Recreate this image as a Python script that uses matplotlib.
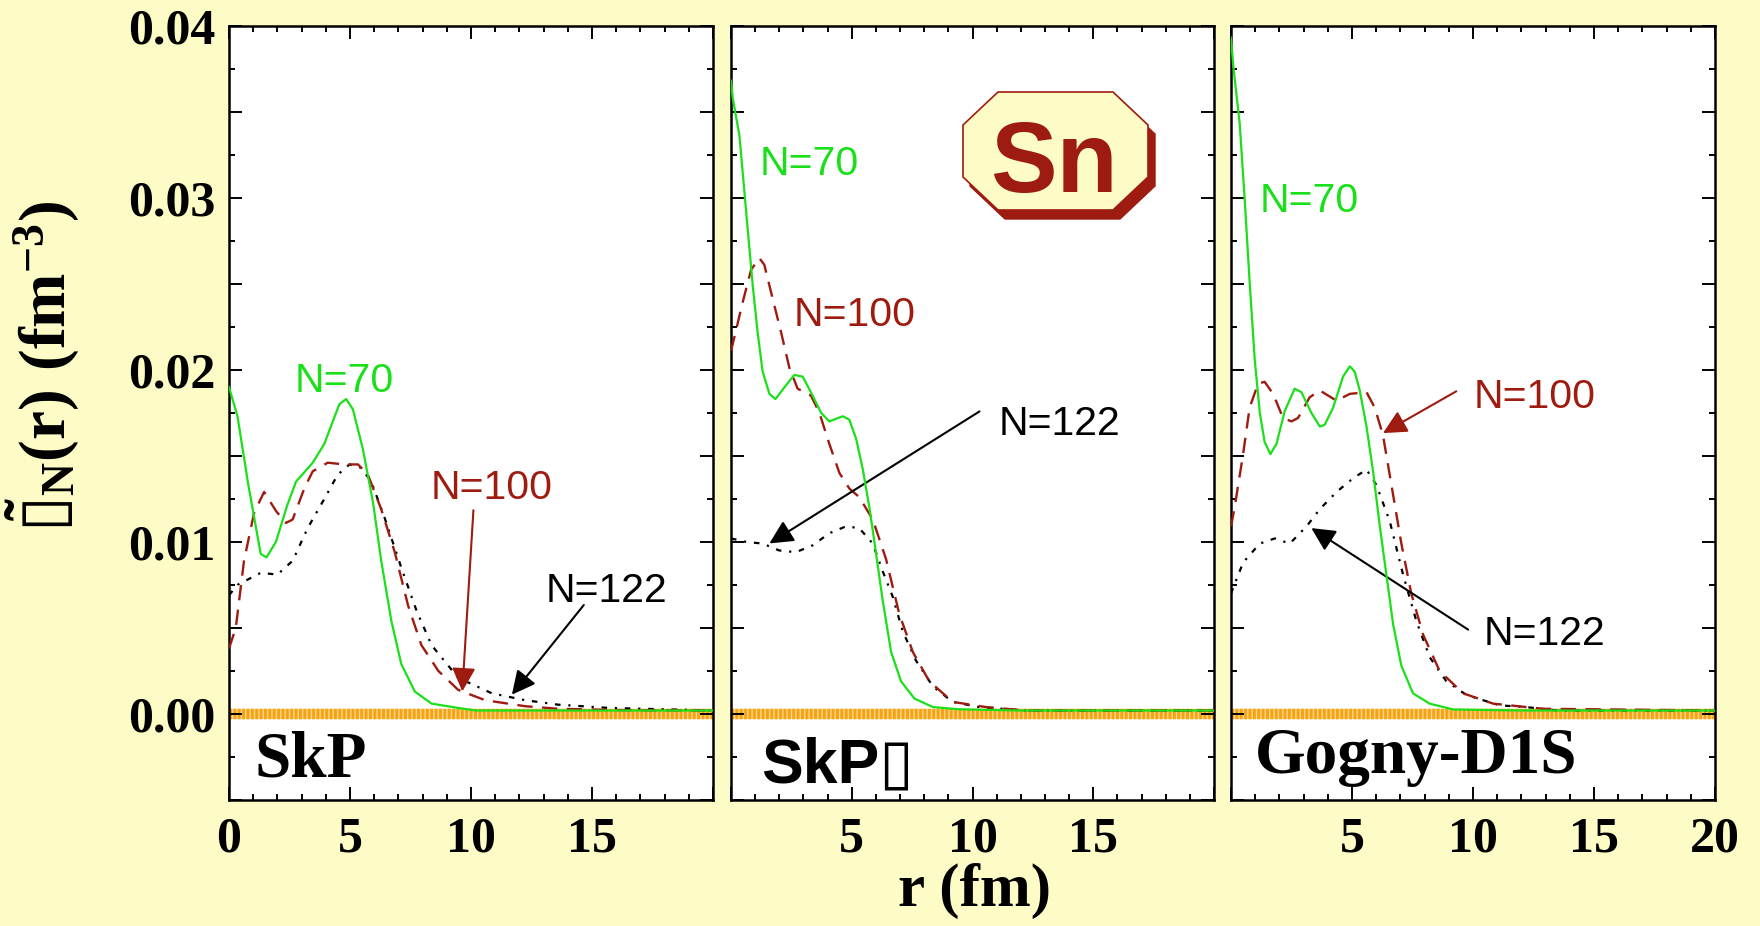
import numpy as np
import matplotlib
matplotlib.use("Agg")
import matplotlib.pyplot as plt
from matplotlib.patches import Polygon
from matplotlib.ticker import MultipleLocator, FixedLocator, FuncFormatter

# ---- data: r (fm), density (fm^-3) ----
# SkP
skp_r70 = [0, 0.35, 0.8, 1.31, 1.55, 1.94, 2.4, 2.77, 3.46, 3.94, 4.56, 4.84, 5.12, 5.53,
           5.95, 6.29, 6.71, 7.12, 7.68, 8.37, 9.47, 10.2, 12, 15, 20]
skp_n70 = [0.0190, 0.0173, 0.0133, 0.0093, 0.0091, 0.0100, 0.0121, 0.0135, 0.0146, 0.0157,
           0.0180, 0.0183, 0.0177, 0.0154, 0.0123, 0.0089, 0.0054, 0.0029, 0.0013, 0.0006,
           0.00035, 0.0002, 0.0002, 0.0002, 0.0002]
skp_r100 = [0, 0.28, 0.62, 1.04, 1.45, 1.94, 2.35, 2.63, 3.11, 3.46, 4.08, 4.77, 5.33, 5.74,
            6.29, 6.85, 7.40, 7.95, 8.65, 9.47, 10.58, 12.24, 13.6, 16.4, 20]
skp_n100 = [0.0038, 0.0050, 0.0089, 0.0117, 0.0129, 0.0118, 0.0111, 0.0113, 0.0131, 0.0141,
            0.0146, 0.0145, 0.0145, 0.0139, 0.0119, 0.0094, 0.0063, 0.0040, 0.0025, 0.0014,
            0.0008, 0.00045, 0.0003, 0.00022, 0.0002]
skp_r122 = [0, 0.35, 1.31, 2.0, 2.63, 3.25, 3.94, 4.49, 4.98, 5.46, 5.88, 6.43, 7.12, 7.75,
            8.37, 9.47, 10.86, 12.24, 13.6, 15.7, 20]
skp_n122 = [0.0069, 0.0075, 0.0082, 0.0081, 0.0089, 0.0108, 0.0125, 0.0139, 0.0145, 0.0143,
            0.0135, 0.0114, 0.0085, 0.0060, 0.0040, 0.0021, 0.0012, 0.0008, 0.00054, 0.00035,
            0.0002]

# SkP-delta
skpd_r70 = [0, 0.07, 0.35, 0.62, 0.90, 1.10, 1.31, 1.59, 1.84, 2.28, 2.62, 2.97, 3.38, 3.73,
            4.07, 4.63, 4.90, 5.18, 5.46, 5.73, 6.01, 6.28, 6.63, 7.04, 7.59, 8.36, 9.45, 12, 20]
skpd_n70 = [0.0368, 0.0358, 0.0336, 0.0293, 0.0249, 0.0222, 0.0199, 0.0186, 0.0183, 0.0191,
            0.0197, 0.0196, 0.0185, 0.0175, 0.0170, 0.0173, 0.0171, 0.0160, 0.0142, 0.0120,
            0.0093, 0.0066, 0.0036, 0.0019, 0.0009, 0.0004, 0.00027, 0.0002, 0.0002]
skpd_r100 = [0, 0.14, 0.48, 0.83, 1.17, 1.38, 1.73, 2.07, 2.42, 2.76, 3.31, 3.66, 4.07, 4.49,
             4.90, 5.31, 5.87, 6.42, 6.97, 7.53, 8.21, 9.18, 10.56, 12.2, 20]
skpd_n100 = [0.0211, 0.0219, 0.0239, 0.0258, 0.0265, 0.0261, 0.0241, 0.0222, 0.0201, 0.0189,
             0.0185, 0.0175, 0.0157, 0.0140, 0.0131, 0.0126, 0.0113, 0.0090, 0.0058, 0.0036,
             0.0019, 0.0007, 0.0004, 0.0002, 0.0002]
skpd_r122 = [0, 0.62, 1.31, 2.0, 2.69, 3.38, 4.07, 4.76, 5.31, 5.87, 6.28, 6.70, 7.11, 7.66,
             8.36, 9.18, 10.27, 12.2, 20]
skpd_n122 = [0.0102, 0.0100, 0.0099, 0.0095, 0.0094, 0.0098, 0.0105, 0.0109, 0.0108, 0.0099,
             0.0083, 0.0068, 0.0048, 0.0031, 0.0016, 0.0007, 0.0004, 0.0002, 0.0002]

# Gogny-D1S
gog_r70 = [0, 0.09, 0.36, 0.57, 0.77, 0.98, 1.19, 1.39, 1.63, 1.88, 2.22, 2.63, 2.91, 3.32,
           3.67, 3.87, 4.22, 4.63, 4.91, 5.11, 5.32, 5.60, 5.87, 6.15, 6.42, 6.70, 7.04, 7.52,
           8.21, 9.18, 12, 20]
gog_n70 = [0.0393, 0.0377, 0.0343, 0.0298, 0.0251, 0.0206, 0.0175, 0.0158, 0.0151, 0.0157,
           0.0176, 0.0189, 0.0187, 0.0175, 0.0167, 0.0168, 0.0178, 0.0196, 0.0202, 0.0199,
           0.0188, 0.0167, 0.0141, 0.0109, 0.0081, 0.0052, 0.0028, 0.0012, 0.0006, 0.00026,
           0.0002, 0.0002]
gog_r100 = [0, 0.15, 0.5, 0.77, 1.12, 1.39, 1.74, 2.15, 2.50, 2.77, 3.25, 3.67, 4.36, 4.91,
            5.60, 5.94, 6.28, 6.63, 7.04, 7.45, 7.94, 8.62, 9.59, 10.83, 12.9, 20]
gog_n100 = [0.0109, 0.0120, 0.0151, 0.0178, 0.0192, 0.0193, 0.0186, 0.0172, 0.0170, 0.0172,
            0.0184, 0.0188, 0.0182, 0.0186, 0.0187, 0.0178, 0.0162, 0.0133, 0.0099, 0.0070,
            0.0046, 0.0025, 0.0012, 0.0006, 0.0003, 0.0002]
gog_r122 = [0, 0.5, 1.19, 1.81, 2.43, 3.12, 3.67, 4.36, 5.05, 5.60, 6.01, 6.56, 7.11, 7.66,
            8.21, 8.90, 9.73, 11.1, 12.2, 13.5, 20]
gog_n122 = [0.0070, 0.0088, 0.0099, 0.0102, 0.0099, 0.0109, 0.0119, 0.0129, 0.0137, 0.0142,
            0.0133, 0.0112, 0.0081, 0.0054, 0.0033, 0.0019, 0.0011, 0.0005, 0.0004, 0.0002,
            0.0002]

panel_names = ["SkP", "SkP\u25af", "Gogny-D1S"]
xtick_labels = [["0", "5", "10", "15", ""],
                ["", "5", "10", "15", ""],
                ["", "5", "10", "15", "20"]]

# colours
BG = "#fdfbc6"
GREEN = "#19e019"
RED = "#9e1b10"
ORANGE = "#f5a312"

plt.rcParams["font.family"] = ["Liberation Serif", "DejaVu Sans"]
plt.rcParams["font.weight"] = "bold"
plt.rcParams["mathtext.fontset"] = "custom"
plt.rcParams["mathtext.rm"] = "Liberation Serif:bold"
plt.rcParams["mathtext.it"] = "Liberation Serif:bold"
plt.rcParams["mathtext.bf"] = "Liberation Serif:bold"
plt.rcParams["mathtext.sf"] = "DejaVu Sans"

W, H = 1760, 926
fig = plt.figure(figsize=(W / 100, H / 100), dpi=100, facecolor=BG)


def px(x, y):
    # pixel position (y from top) -> figure fraction
    return (x / W, 1 - y / H)


def frame(x0, x1, y0=25.6, y1=800):
    l, b = px(x0, y1)
    return [l, b, (x1 - x0) / W, (y1 - y0) / H]


axes = [fig.add_axes(frame(229, 713)),
        fig.add_axes(frame(731, 1214)),
        fig.add_axes(frame(1231, 1715))]

curves = [
    [(skp_r70, skp_n70), (skp_r100, skp_n100), (skp_r122, skp_n122)],
    [(skpd_r70, skpd_n70), (skpd_r100, skpd_n100), (skpd_r122, skpd_n122)],
    [(gog_r70, gog_n70), (gog_r100, gog_n100), (gog_r122, gog_n122)],
]

for i, ax in enumerate(axes):
    ax.set_facecolor("white")
    ax.set_xlim(0, 20)
    ax.set_ylim(-0.005, 0.04)
    # striped zero line
    ax.axhline(0, color="#fbd58a", lw=7.5, zorder=1)
    ax.axhline(0, color=ORANGE, lw=7.5, ls=(0, (0.28, 0.14)), dash_capstyle="butt", zorder=1)
    (r70, n70), (r100, n100), (r122, n122) = curves[i]
    ax.plot(r122, n122, color="black", lw=1.6, ls=(0, (2.5, 3.5, 1, 3.5)), zorder=3)
    ax.plot(r100, n100, color=RED, lw=1.7, ls=(0, (6.5, 4)), zorder=3)
    ax.plot(r70, n70, color=GREEN, lw=1.6, zorder=4)

    ax.xaxis.set_major_locator(FixedLocator([0, 5, 10, 15, 20]))
    ax.xaxis.set_minor_locator(MultipleLocator(1))
    ax.set_xticklabels(xtick_labels[i])
    ax.yaxis.set_major_locator(MultipleLocator(0.005))
    ax.yaxis.set_minor_locator(MultipleLocator(0.0025))
    if i == 0:
        ax.yaxis.set_major_formatter(FuncFormatter(
            lambda v, p: "%.2f" % v if abs(round(v * 100) - v * 100) < 1e-6 and v > -0.001 else ""))
    else:
        ax.set_yticklabels([])
    ax.tick_params(which="both", direction="in", top=True, right=True, width=1.4,
                   labelsize=36, colors="black")
    ax.tick_params(which="major", length=9.5)
    ax.tick_params(which="minor", length=4.5)
    ax.tick_params(axis="x", pad=12)
    ax.tick_params(axis="y", pad=10)
    for s in ax.spines.values():
        s.set_linewidth(1.8)

# panel names
axes[0].text(1.04, -0.00365, panel_names[0], fontsize=47, fontweight="bold", va="baseline")
axes[1].text(1.23, -0.0040, panel_names[1], fontsize=45, fontweight="bold", va="baseline",
             family=["Liberation Sans", "DejaVu Sans"])
axes[2].text(1.0, -0.00342, panel_names[2], fontsize=47, fontweight="bold", va="baseline")

# N labels and arrows
lab = dict(family=["Liberation Sans", "DejaVu Sans"], fontweight="normal", fontsize=29.5,
           ha="center", va="baseline", zorder=6)
arr = dict(arrowstyle="-|>,head_length=0.4,head_width=0.2", mutation_scale=36, lw=1.5,
           shrinkA=0, shrinkB=0)

ax = axes[0]
ax.text(4.77, 0.01873, "N=70", color=GREEN, **lab)
ax.text(10.84, 0.01251, "N=100", color=RED, **lab)
ax.text(15.59, 0.00653, "N=122", color="black", **lab)
ax.annotate("", xy=(9.64, 0.00131), xytext=(10.1, 0.01184), arrowprops=dict(color=RED, **arr))
ax.annotate("", xy=(11.69, 0.00112), xytext=(14.66, 0.00633), arrowprops=dict(color="black", **arr))

ax = axes[1]
ax.text(3.23, 0.03132, "N=70", color=GREEN, **lab)
ax.text(5.12, 0.02253, "N=100", color=RED, **lab)
ax.text(13.6, 0.01622, "N=122", color="black", **lab)
ax.annotate("", xy=(1.59, 0.00991), xytext=(10.29, 0.01758), arrowprops=dict(color="black", **arr))

ax = axes[2]
ax.text(3.25, 0.02917, "N=70", color=GREEN, **lab)
ax.text(12.55, 0.01776, "N=100", color=RED, **lab)
ax.text(12.96, 0.00398, "N=122", color="black", **lab)
ax.annotate("", xy=(6.28, 0.01632), xytext=(9.31, 0.01875), arrowprops=dict(color=RED, **arr))
ax.annotate("", xy=(3.32, 0.0108), xytext=(9.8, 0.0049), arrowprops=dict(color="black", **arr))

# Sn badge
octo = [(998, 92), (1113, 92), (1148, 125), (1148, 177), (1113, 210), (998, 210),
        (963, 177), (963, 125)]
shadow = Polygon([px(x + 7, y + 9) for x, y in octo], closed=True, facecolor=RED,
                 edgecolor=RED, transform=fig.transFigure, zorder=5)
badge = Polygon([px(x, y) for x, y in octo], closed=True, facecolor=BG, edgecolor=RED,
                lw=1.2, transform=fig.transFigure, zorder=6)
fig.add_artist(shadow)
fig.add_artist(badge)
fig.text(*px(1054, 192), "Sn", color=RED, fontsize=72, fontweight="bold",
         family=["Liberation Sans", "DejaVu Sans"], ha="center", va="baseline", zorder=7)

# axis labels
fig.text(*px(974, 891), "r (fm)", fontsize=44, fontweight="bold", ha="center", va="center")
fig.text(*px(43, 366), "$\\tilde{\\mathsf{\u25af}}_{\\rm N}{\\rm (r)\\ (fm}^{-3}{\\rm )}$",
         fontsize=47, rotation=90, ha="center", va="center")

fig.savefig("out.png", dpi=100, facecolor=BG)
